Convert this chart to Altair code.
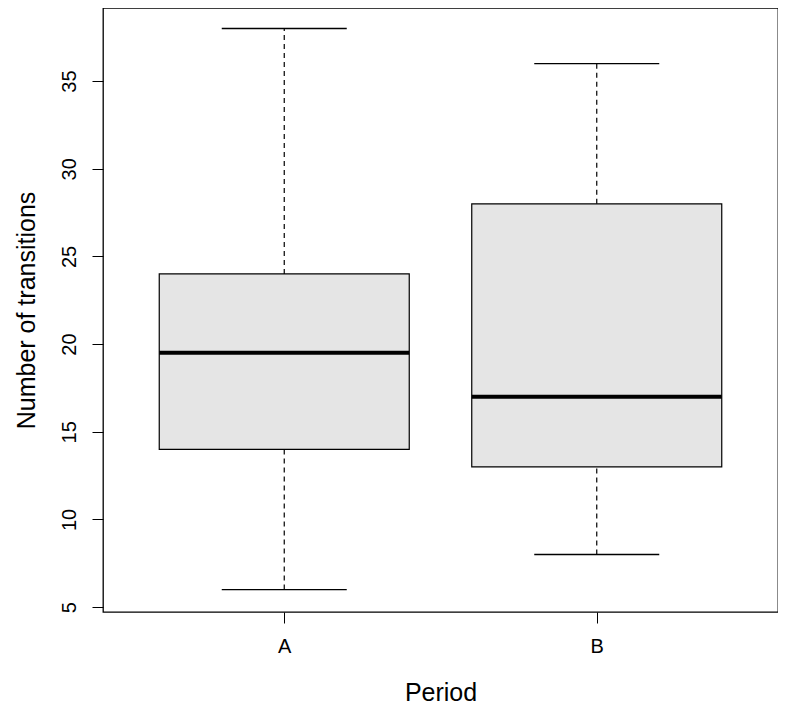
import altair as alt
import pandas as pd

periods = ["A", "B"]
positions = [1, 2]
mins = [6, 8]
q1s = [14, 13]
medians = [19.5, 17]
q3s = [24, 28]
maxs = [38, 36]

df = pd.DataFrame({
    "period": periods, "pos": positions, "lo": mins, "q1": q1s,
    "med": medians, "q3": q3s, "hi": maxs,
})

FONT = "Liberation Sans"
xscale = alt.Scale(domain=[0.42, 2.58], nice=False, zero=False)
yscale = alt.Scale(domain=[4.72, 39.17], nice=False, zero=False)

base = alt.Chart(df).transform_calculate(
    bl="datum.pos - 0.4", br="datum.pos + 0.4",
    cl="datum.pos - 0.2", cr="datum.pos + 0.2",
)

xaxis = alt.Axis(
    values=[1, 2], labelExpr="datum.value == 1 ? 'A' : 'B'", title="Period",
    grid=False, domain=False, tickColor="black", tickSize=11, tickWidth=1,
    labelFontSize=20, labelFont=FONT, labelColor="black", labelPadding=13,
    titleFontSize=25, titleFont=FONT, titleFontWeight="normal", titleColor="black",
    titlePadding=24,
)
yaxis = alt.Axis(
    values=[5, 10, 15, 20, 25, 30, 35], title="Number of transitions",
    grid=False, domain=False, tickColor="black", tickSize=11, tickWidth=1,
    labelAngle=-90, labelAlign="center", labelBaseline="bottom",
    labelFontSize=20, labelFont=FONT, labelColor="black", labelPadding=13,
    titleFontSize=25, titleFont=FONT, titleFontWeight="normal", titleColor="black",
    titlePadding=20,
)

def X(field):
    return alt.X(field, scale=xscale, axis=xaxis)

def Y(field):
    return alt.Y(field, scale=yscale, axis=yaxis)

box = base.mark_rect(fill="#e5e5e5", stroke="black", strokeWidth=1.2).encode(
    x=X("bl:Q"), x2="br:Q", y=Y("q1:Q"), y2="q3:Q",
)
whisk_hi = base.mark_rule(color="black", strokeWidth=1.2, strokeDash=[5, 4]).encode(
    x=X("pos:Q"), y=Y("q3:Q"), y2="hi:Q")
whisk_lo = base.mark_rule(color="black", strokeWidth=1.2, strokeDash=[5, 4]).encode(
    x=X("pos:Q"), y=Y("lo:Q"), y2="q1:Q")
cap_hi = base.mark_rule(color="black", strokeWidth=1.3).encode(
    x=X("cl:Q"), x2="cr:Q", y=Y("hi:Q"))
cap_lo = base.mark_rule(color="black", strokeWidth=1.3).encode(
    x=X("cl:Q"), x2="cr:Q", y=Y("lo:Q"))
median = base.mark_rule(color="black", strokeWidth=4).encode(
    x=X("bl:Q"), x2="br:Q", y=Y("med:Q"))

chart = alt.layer(box, whisk_hi, whisk_lo, cap_hi, cap_lo, median).properties(
    width=675, height=604,
    autosize=alt.AutoSizeParams(type="none"),
    padding={"left": 95, "top": 0, "right": 0, "bottom": 96},
    background="white",
).configure_view(stroke="black", strokeWidth=1.3)

chart.save("out.html", embed_options={"renderer": "svg", "actions": False})
